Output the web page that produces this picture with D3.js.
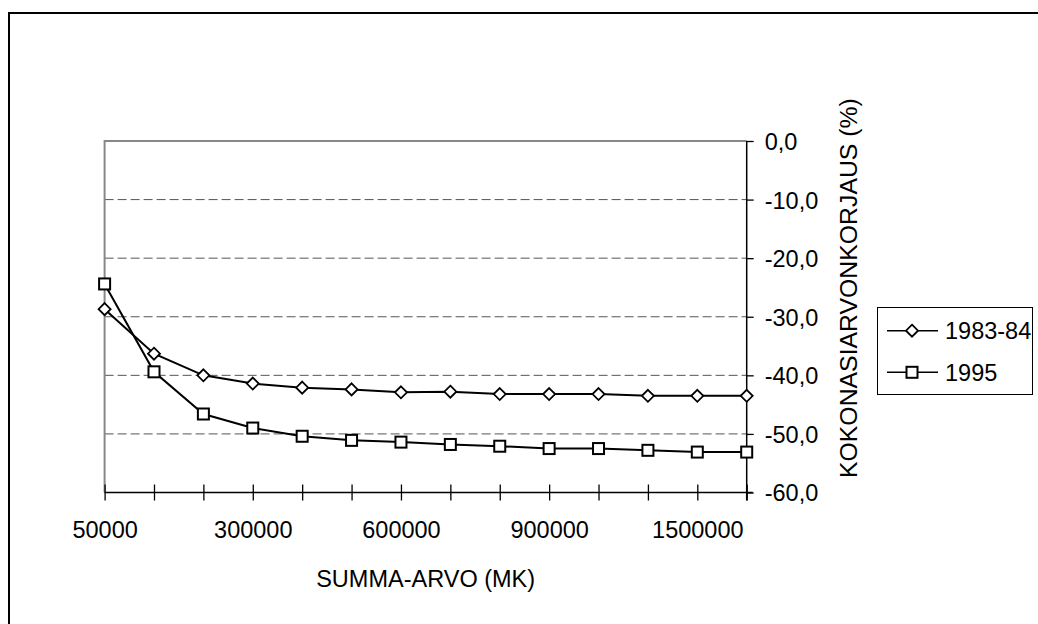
<!DOCTYPE html>
<html>
<head>
<meta charset="utf-8">
<script src="https://cdn.jsdelivr.net/npm/d3@7"></script>
<style>
  body { margin: 0; background: #fff; }
  svg { display: block; font-family: 'Liberation Sans', Arial, sans-serif; }
</style>
</head>
<body>
<div id="chart"></div>
<script>
// summa-arvo categories (mk), only every third one gets a label
const categories = ['50000', '100000', '200000', '300000', '400000', '500000', '600000',
  '700000', '800000', '900000', '1000000', '1200000', '1500000', '2000000']
const labelledCategories = ['50000', '300000', '600000', '900000', '1500000']
const yTicks = [0, -10, -20, -30, -40, -50, -60]

// kokonaisarvonkorjaus (%)
const values8384 = [-28.7, -36.3, -40.0, -41.4, -42.1, -42.4, -42.9, -42.8, -43.2, -43.2, -43.2, -43.5, -43.5, -43.5]
const values1995 = [-24.4, -39.4, -46.6, -49.0, -50.4, -51.1, -51.4, -51.8, -52.1, -52.5, -52.5, -52.8, -53.1, -53.1]
const seriesNames = ['1983-84', '1995']

const width = 1038
const height = 624
const plot = {left: 104.6, right: 746.7, top: 141, bottom: 492.5}
const fontSize = 23.5

const svg = d3.select('#chart')
  .append('svg')
    .attr('width', width)
    .attr('height', height)

const x = d3.scalePoint().domain(categories).range([plot.left, plot.right])
const y = d3.scaleLinear().domain([-60, 0]).range([plot.bottom, plot.top])

const fmt = d => (d < 0 ? '-' : '') + Math.abs(d).toFixed(1).replace('.', ',')

// outer chart frame (only top/left are inside the picture)
svg.append('path')
  .attr('d', 'M9,' + height + 'V13H' + width)
  .attr('fill', 'none')
  .attr('stroke', '#000')
  .attr('stroke-width', 2)

// gridlines
svg.append('g')
    .classed('grid', true)
  .selectAll('line')
  .data(yTicks.filter(d => d !== 0 && d !== -60))
  .enter()
  .append('line')
    .attr('x1', plot.left)
    .attr('x2', plot.right)
    .attr('y1', d => y(d))
    .attr('y2', d => y(d))
    .attr('stroke', '#555')
    .attr('stroke-width', 1)
    .attr('stroke-dasharray', '9,4')

// plot area border, top and left in grey
svg.append('path')
  .attr('d', 'M' + plot.left + ',' + plot.bottom + 'V' + plot.top + 'H' + plot.right)
  .attr('fill', 'none')
  .attr('stroke', '#888')
  .attr('stroke-width', 2)

// x-axis
const xAxisG = svg.append('g')
  .classed('x-axis', true)
  .attr('transform', 'translate(0,' + plot.bottom + ')')
xAxisG.call(d3.axisBottom(x)
  .tickSizeOuter(0)
  .tickFormat(d => labelledCategories.includes(d) ? d : ''))
xAxisG.select('.domain')
  .attr('d', 'M' + plot.left + ',0H' + (plot.right + 6))
  .attr('stroke', '#000')
  .attr('stroke-width', 1.5)
xAxisG.selectAll('.tick line')
  .attr('y1', -8)
  .attr('y2', 8)
  .attr('stroke', '#000')
  .attr('stroke-width', 1.3)
xAxisG.selectAll('.tick text')
  .attr('y', 45.5)
  .attr('dy', null)
  .attr('fill', '#000')
  .style('font-size', fontSize + 'px')
  .style('font-family', "'Liberation Sans', Arial, sans-serif")

// y-axis on the right
const yAxisG = svg.append('g')
  .classed('y-axis', true)
  .attr('transform', 'translate(' + plot.right + ',0)')
yAxisG.call(d3.axisRight(y)
  .tickValues(yTicks)
  .tickSizeOuter(0)
  .tickSize(7)
  .tickPadding(11)
  .tickFormat(fmt))
yAxisG.select('.domain')
  .attr('d', 'M0,' + plot.top + 'V' + (plot.bottom + 8))
  .attr('stroke', '#000')
  .attr('stroke-width', 1.5)
yAxisG.selectAll('.tick line')
  .attr('stroke', '#000')
  .attr('stroke-width', 1.3)
yAxisG.selectAll('.tick text')
  .attr('dy', '0.36em')
  .attr('fill', '#000')
  .style('font-size', fontSize + 'px')
  .style('font-family', "'Liberation Sans', Arial, sans-serif")

// axis titles
svg.append('text')
  .attr('x', (plot.left + plot.right) / 2)
  .attr('y', 587)
  .attr('text-anchor', 'middle')
  .style('font-size', fontSize + 'px')
  .text('SUMMA-ARVO (MK)')

svg.append('text')
  .attr('transform', 'translate(857,478) rotate(-90)')
  .attr('text-anchor', 'start')
  .style('font-size', '24.8px')
  .text('KOKONASIARVONKORJAUS (%)')

// markers
function diamond (g) {
  g.append('path')
    .attr('d', 'M0,-6L6,0L0,6L-6,0Z')
    .attr('fill', '#fff')
    .attr('stroke', '#000')
    .attr('stroke-width', 1.8)
}

function square (g) {
  g.append('rect')
    .attr('x', -5.5)
    .attr('y', -5.5)
    .attr('width', 11)
    .attr('height', 11)
    .attr('fill', '#fff')
    .attr('stroke', '#000')
    .attr('stroke-width', 2)
}

const series = [
  {name: seriesNames[0], values: values8384, marker: diamond},
  {name: seriesNames[1], values: values1995, marker: square}
]

const line = d3.line()
  .x((d, i) => x(categories[i]))
  .y(d => y(d))

const seriesG = svg.append('g').classed('series', true)
series.forEach(s => {
  seriesG.append('path')
    .attr('d', line(s.values))
    .attr('fill', 'none')
    .attr('stroke', '#000')
    .attr('stroke-width', 2)
  seriesG.selectAll(null)
    .data(s.values)
    .enter()
    .append('g')
      .attr('transform', (d, i) => 'translate(' + x(categories[i]) + ',' + y(d) + ')')
      .each(function () { s.marker(d3.select(this)) })
})

// legend
const legendG = svg.append('g')
  .classed('legend', true)
  .attr('transform', 'translate(877,307)')
legendG.append('rect')
  .attr('x', 0.5)
  .attr('y', 0.5)
  .attr('width', 155)
  .attr('height', 87)
  .attr('fill', '#fff')
  .attr('stroke', '#000')
  .attr('stroke-width', 1)

const rows = [23.7, 65.3]
series.forEach((s, i) => {
  const row = legendG.append('g')
    .attr('transform', 'translate(0,' + rows[i] + ')')
  row.append('line')
    .attr('x1', 10)
    .attr('x2', 61)
    .attr('stroke', '#000')
    .attr('stroke-width', 1.5)
  s.marker(row.append('g').attr('transform', 'translate(35,0)'))
  row.append('text')
    .attr('x', 68)
    .attr('dy', '0.36em')
    .style('font-size', fontSize + 'px')
    .text(s.name)
})
</script>
</body>
</html>
